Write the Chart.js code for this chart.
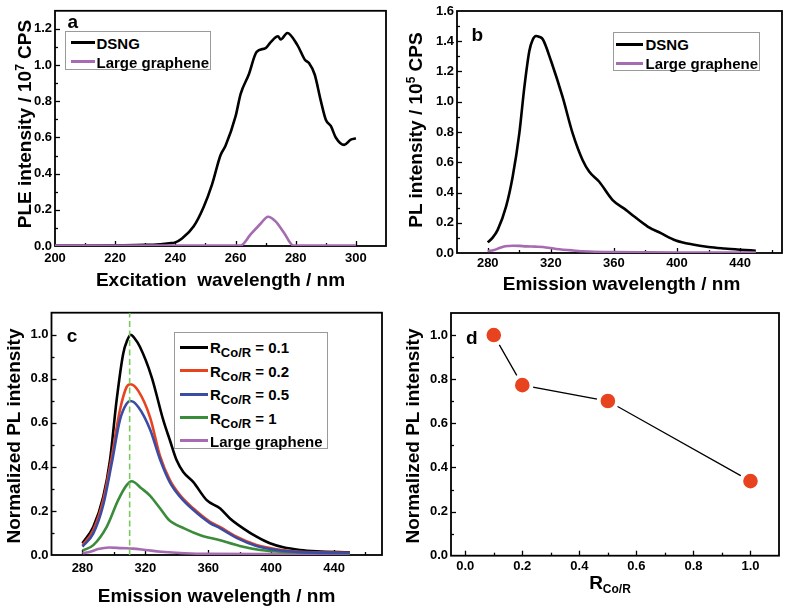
<!DOCTYPE html>
<html>
<head>
<meta charset="utf-8">
<script src="https://cdn.jsdelivr.net/npm/chart.js@4.4.0/dist/chart.umd.min.js"></script>
<style>
  body { margin: 0; background: #fff; }
  #fig { position: relative; width: 792px; height: 608px; overflow: hidden; background: #fff;
         font-family: "Liberation Sans", Arial, sans-serif; font-weight: bold; color: #000; }
  #fig canvas { position: absolute; }
  .t { position: absolute; white-space: nowrap; font-size: 19px; line-height: 1; transform: translate(-50%, -50%); }
  .ty { transform: translate(-50%, -50%) rotate(-90deg); }
  .t sup { font-size: 12px; vertical-align: 0.55em; line-height: 0; }
  .t sub { font-size: 12px; vertical-align: -0.35em; line-height: 0; }
  .lg { position: absolute; border: 1px solid #9a9a9a; background: #fff; box-sizing: border-box; }
  .ln { position: absolute; height: 3px; }
  .lt { position: absolute; font-size: 15px; line-height: 1; white-space: nowrap; transform: translateY(-50%); }
  .lt sub { font-size: 13px; vertical-align: -0.35em; line-height: 0; }
</style>
</head>
<body>
<div id="fig"></div>
<script>
const FONT = '"Liberation Sans", Arial, sans-serif';

// a: PLE spectra
const excWlDsng = [200, 210, 220, 230, 235, 238, 240, 242.2, 246.1, 249.4, 252.2, 255, 256.7, 260, 261.7, 264.4, 267, 270, 271.7, 274.1, 275, 277.2, 280.6, 283.1, 284.4, 286.3, 288.3, 290, 291.7, 293.3, 296.1, 298.3, 300];
const excDsng = [0.003, 0.003, 0.004, 0.006, 0.010, 0.015, 0.020, 0.041, 0.109, 0.216, 0.341, 0.502, 0.555, 0.716, 0.841, 0.948, 1.073, 1.094, 1.127, 1.159, 1.141, 1.177, 1.109, 1.028, 1.011, 0.948, 0.805, 0.698, 0.662, 0.600, 0.559, 0.588, 0.595];
const excWlLarge = [200, 220, 240, 255, 261.7, 265, 268.3, 270.8, 273.3, 276.1, 279.2, 290, 300];
const excLarge = [0.002, 0.002, 0.002, 0.002, 0.003, 0.064, 0.123, 0.162, 0.136, 0.073, 0.003, 0.002, 0.002];

// b: PL spectra
const emWlDsng = [280, 283, 286.3, 291.6, 295.8, 300, 303.2, 306.4, 308.5, 310.6, 312.5, 314.9, 320.1, 327.5, 333.9, 340.2, 344.4, 350.7, 359.2, 367.6, 372.9, 381.4, 389.8, 399.3, 410, 420, 430, 440, 450];
const emDsng = [0.070, 0.100, 0.153, 0.306, 0.504, 0.789, 1.095, 1.337, 1.410, 1.435, 1.430, 1.413, 1.271, 1.030, 0.789, 0.613, 0.537, 0.471, 0.350, 0.285, 0.241, 0.175, 0.131, 0.083, 0.056, 0.040, 0.030, 0.022, 0.015];
const emWlLarge = [280, 284, 287.5, 291, 295.8, 300, 304.2, 310, 314.9, 323.4, 333.9, 344.4, 360, 380, 400, 450];
const emLarge = [0.012, 0.020, 0.033, 0.044, 0.048, 0.047, 0.044, 0.042, 0.040, 0.027, 0.017, 0.010, 0.006, 0.004, 0.003, 0.003];

// c: normalized PL for each R(Co/R)
const ratios = [0.1, 0.2, 0.5, 1];
const wlR01 = [280, 286.9, 293.2, 297.5, 301.7, 305.9, 308.5, 310.6, 313, 316.6, 324, 331.4, 335.6, 339.9, 344.1, 350.4, 359, 367.4, 373.8, 382.2, 390.7, 399.2, 407.7, 418.3, 428.9, 450];
const normR01 = [0.053, 0.128, 0.264, 0.430, 0.702, 0.914, 0.975, 1.000, 0.985, 0.944, 0.808, 0.612, 0.521, 0.430, 0.377, 0.332, 0.249, 0.212, 0.166, 0.121, 0.083, 0.053, 0.035, 0.023, 0.017, 0.012];
const wlR02 = [280, 286.9, 293.2, 298.6, 303.8, 308.1, 310.6, 315.5, 323, 329.3, 335.6, 342, 350.4, 361.1, 367.4, 378, 390.7, 403.5, 418.3, 450];
const normR02 = [0.045, 0.113, 0.249, 0.445, 0.657, 0.763, 0.775, 0.745, 0.625, 0.450, 0.340, 0.272, 0.212, 0.151, 0.128, 0.083, 0.045, 0.026, 0.015, 0.010];
const wlR05 = [280, 286.9, 293.2, 298.6, 303.8, 308.1, 310.6, 315.5, 323, 329.3, 335.6, 342, 350.4, 361.1, 367.4, 378, 390.7, 403.5, 418.3, 450];
const normR05 = [0.038, 0.098, 0.227, 0.416, 0.612, 0.687, 0.699, 0.672, 0.570, 0.435, 0.330, 0.265, 0.205, 0.145, 0.122, 0.078, 0.041, 0.023, 0.013, 0.009];
const wlR1 = [280, 286.9, 295.4, 302.7, 308.1, 311.3, 317.6, 322.9, 329.3, 335, 345, 355, 367, 380, 393, 408, 450];
const normR1 = [0.020, 0.045, 0.128, 0.249, 0.317, 0.335, 0.302, 0.270, 0.212, 0.159, 0.120, 0.090, 0.068, 0.041, 0.023, 0.014, 0.009];
const wlLargeN = [280, 285, 290, 297, 305, 312, 320, 330, 345, 360, 400, 450];
const normLarge = [0.008, 0.015, 0.027, 0.034, 0.031, 0.029, 0.023, 0.015, 0.008, 0.005, 0.004, 0.004];
const peakWl = 310;

// d: peak intensity vs ratio
const peakNorm = [1.0, 0.773, 0.701, 0.338];

// tick labels
const ticksExc = [200, 220, 240, 260, 280, 300];
const ticksEm = [280, 320, 360, 400, 440];
const ticksPle = [0, 0.2, 0.4, 0.6, 0.8, 1.0, 1.2];
const ticksPl = [0, 0.2, 0.4, 0.6, 0.8, 1.0, 1.2, 1.4, 1.6];
const ticksNorm = [0, 0.2, 0.4, 0.6, 0.8, 1.0];
const ticksRatio = [0, 0.2, 0.4, 0.6, 0.8, 1.0];

const BLACK = '#000000', RED = '#E8431F', BLUE = '#3B4CA5', GREEN = '#3A8C3A', PURPLE = '#A66BB1';

const pts = (xs, ys) => xs.map((x, i) => ({ x: x, y: ys[i] }));
const fix1 = v => v.toFixed(1);
const int = v => String(Math.round(v));

function axis(min, max, ticks, fmt, size, horizontal, pad) {
  return {
    type: 'linear', min: min, max: max,
    grid: { display: false, drawTicks: false },
    border: { display: false },
    ticks: { color: '#000', padding: pad, maxRotation: 0, autoSkip: false,
             font: { family: FONT, size: 13, weight: 'bold' }, callback: v => fmt(v) },
    afterBuildTicks: s => { s.ticks = ticks.map(v => ({ value: v })); },
    afterFit: s => { if (horizontal) s.height = size; else s.width = size; }
  };
}

// box around the plot and inward major/minor ticks on bottom and left axes
const frame = {
  id: 'frame',
  beforeDatasetsDraw(chart) {
    const { ctx, chartArea: a, scales } = chart;
    ctx.save();
    ctx.strokeStyle = '#000';
    ctx.lineWidth = 1.3;
    ['x', 'y'].forEach(id => {
      const s = scales[id];
      const vals = s.ticks.map(t => t.value);
      const half = (vals[1] - vals[0]) / 2;
      for (let k = -20; k <= 40; k++) {
        const v = vals[0] + k * half;
        if (v < s.min + 1e-9 || v > s.max - 1e-9) continue;
        const len = k % 2 === 0 ? 5 : 3;
        const p = Math.round(s.getPixelForValue(v)) + 0.5;
        ctx.beginPath();
        if (id === 'x') { ctx.moveTo(p, a.bottom); ctx.lineTo(p, a.bottom - len); }
        else { ctx.moveTo(a.left, p); ctx.lineTo(a.left + len, p); }
        ctx.stroke();
      }
    });
    ctx.lineWidth = 1.8;
    ctx.strokeRect(a.left, a.top, a.right - a.left, a.bottom - a.top);
    ctx.restore();
  }
};

const fig = document.getElementById('fig');

function panel(left, top, w, h, padding, datasets, scales) {
  const c = document.createElement('canvas');
  c.width = w; c.height = h;
  c.style.left = left + 'px'; c.style.top = top + 'px';
  fig.appendChild(c);
  return new Chart(c.getContext('2d'), {
    type: 'line',
    data: { datasets: datasets },
    options: {
      responsive: false, animation: false, devicePixelRatio: 1,
      layout: { padding: padding },
      plugins: { legend: { display: false }, tooltip: { enabled: false } },
      elements: { point: { radius: 0 } },
      scales: scales
    },
    plugins: [frame]
  });
}

function spec(label, xs, ys, color, extra) {
  return Object.assign({ label: label, data: pts(xs, ys), borderColor: color, backgroundColor: color,
    borderWidth: 2.6, pointRadius: 0, cubicInterpolationMode: 'monotone', fill: false }, extra || {});
}

const chartA = panel(0, 0, 396, 300, { left: 0, top: 5, right: 10, bottom: 0 }, [
  spec('DSNG', excWlDsng, excDsng, BLACK, { order: 1 }),
  spec('Large graphene', excWlLarge, excLarge, PURPLE, { order: 0 })
], {
  x: axis(200, 310, ticksExc, int, 54, true, 5),
  y: axis(0, 1.3, ticksPle, fix1, 55, false, 3)
});

const chartB = panel(396, 0, 396, 300, { left: 0, top: 11, right: 10, bottom: 0 }, [
  spec('DSNG', emWlDsng, emDsng, BLACK, { order: 1 }),
  spec('Large graphene', emWlLarge, emLarge, PURPLE, { order: 0 })
], {
  x: axis(260.5, 466.6, ticksEm, int, 47, true, 3),
  y: axis(0, 1.6, ticksPl, fix1, 61, false, 3)
});

const ratioLabel = r => 'R<sub>Co/R</sub> = ' + r;
const chartC = panel(0, 300, 396, 308, { left: 0, top: 12.7, right: 14, bottom: 0 }, [
  spec('RCo/R = ' + ratios[0], wlR01, normR01, BLACK, { order: 3, html: ratioLabel(ratios[0]) }),
  spec('RCo/R = ' + ratios[1], wlR02, normR02, RED, { order: 2, html: ratioLabel(ratios[1]) }),
  spec('RCo/R = ' + ratios[2], wlR05, normR05, BLUE, { order: 1, html: ratioLabel(ratios[2]) }),
  spec('RCo/R = ' + ratios[3], wlR1, normR1, GREEN, { order: 4, html: ratioLabel(ratios[3]) }),
  spec('Large graphene', wlLargeN, normLarge, PURPLE, { order: 5 }),
  { data: [{ x: peakWl, y: 0 }, { x: peakWl, y: 1.1 }], borderColor: '#7BC85A', borderWidth: 1.6,
    borderDash: [6, 3.5], pointRadius: 0, order: 0, fill: false }
], {
  x: axis(260.3, 470.5, ticksEm, int, 53, true, 6),
  y: axis(0, 1.1, ticksNorm, fix1, 51.5, false, 3)
});

const chartD = panel(396, 300, 396, 308, { left: 0, top: 12.7, right: 10, bottom: 0 }, [
  { data: pts(ratios, peakNorm), borderColor: BLACK, borderWidth: 1.3, pointRadius: 9.2,
    pointBackgroundColor: RED, pointBorderColor: '#fff', pointBorderWidth: 3.8, tension: 0, fill: false }
], {
  x: axis(-0.05, 1.1, ticksRatio, fix1, 52.3, true, 3),
  y: axis(0, 1.1, ticksNorm, fix1, 55, false, 3)
});

// text overlays
function text(html, x, y, cls) {
  const d = document.createElement('div');
  d.className = 't' + (cls ? ' ' + cls : '');
  d.style.left = x + 'px'; d.style.top = y + 'px';
  d.innerHTML = html;
  fig.appendChild(d);
}
text('Excitation&nbsp; wavelength / nm', 220.5, 279);
text('PLE intensity / 10<sup>7</sup> CPS', 23.5, 124, 'ty');
text('Emission wavelength / nm', 621.5, 283);
text('PL intensity / 10<sup>5</sup> CPS', 415, 130, 'ty');
text('Emission wavelength / nm', 216.5, 595);
text('Normalized PL intensity', 12.5, 436, 'ty');
text('R<sub style="font-size:12px">Co/R</sub>', 610, 582);
text('Normalized PL intensity', 411.7, 436, 'ty');
text('a', 72.7, 21);
text('b', 477.3, 34);
text('c', 72, 335);
text('d', 471.7, 337.3);

function legend(chart, b) {
  const el = document.createElement('div');
  el.className = 'lg';
  el.style.left = b.x1 + 'px'; el.style.top = b.y1 + 'px';
  el.style.width = (b.x2 - b.x1) + 'px'; el.style.height = (b.y2 - b.y1) + 'px';
  chart.data.datasets.filter(d => d.label).forEach((d, i) => {
    const cy = b.row0 + i * b.gap - b.y1 - 1;
    const ln = document.createElement('span');
    ln.className = 'ln';
    ln.style.left = (b.sx1 - b.x1 - 1) + 'px'; ln.style.top = (cy - 1.5) + 'px';
    ln.style.width = (b.sx2 - b.sx1) + 'px'; ln.style.background = d.borderColor;
    const tx = document.createElement('span');
    tx.className = 'lt';
    tx.style.left = (b.tx - b.x1 - 1) + 'px'; tx.style.top = cy + 'px';
    tx.innerHTML = d.html || d.label;
    el.appendChild(ln); el.appendChild(tx);
  });
  fig.appendChild(el);
}
legend(chartA, { x1: 65, y1: 31, x2: 211, y2: 70, row0: 42.7, gap: 19, sx1: 71, sx2: 95, tx: 96.5 });
legend(chartB, { x1: 613, y1: 32, x2: 760, y2: 71, row0: 44.3, gap: 19, sx1: 616, sx2: 643, tx: 645.5 });
legend(chartC, { x1: 174, y1: 332, x2: 328, y2: 449, row0: 347.3, gap: 23.4, sx1: 180, sx2: 208, tx: 210 });
</script>
</body>
</html>
